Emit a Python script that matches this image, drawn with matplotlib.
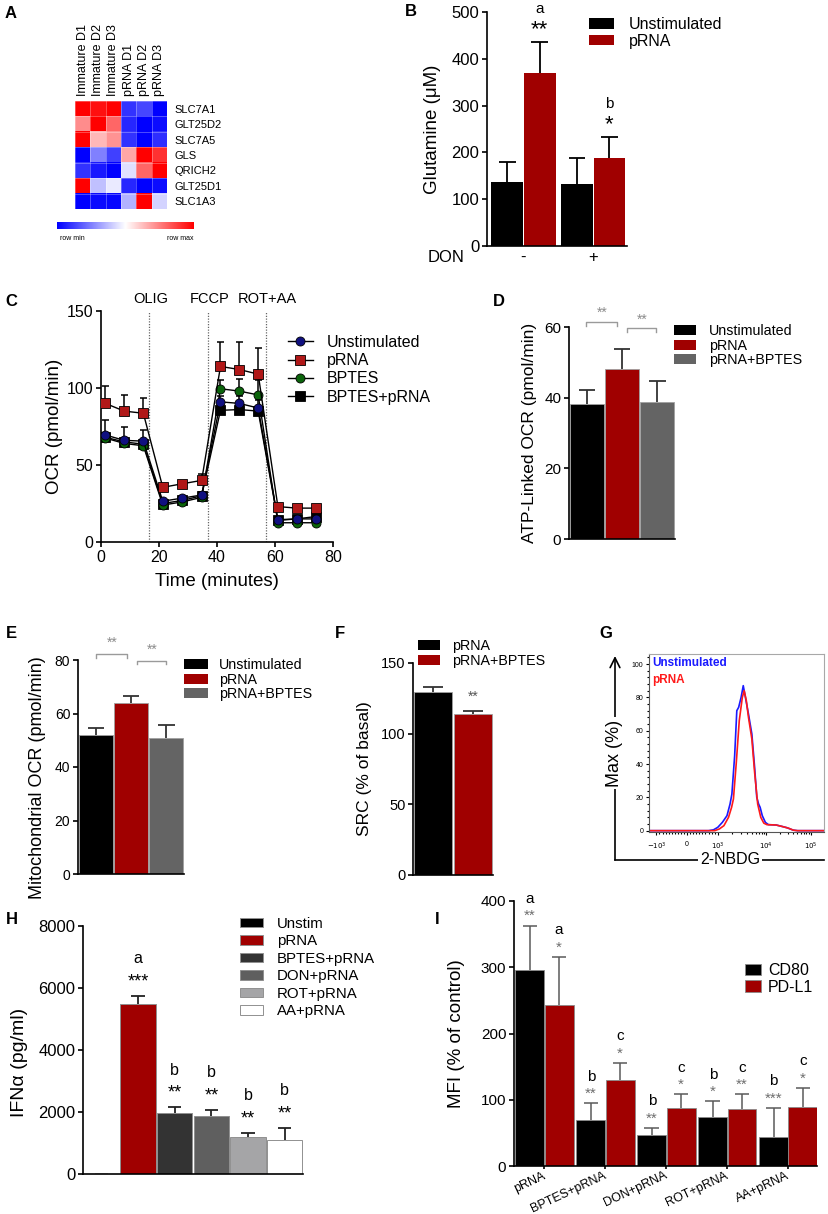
import numpy as np
import matplotlib
matplotlib.use('Agg')
import matplotlib.pyplot as plt
from matplotlib.colors import LinearSegmentedColormap
from matplotlib.lines import Line2D
from matplotlib.patches import Patch
from matplotlib.ticker import MultipleLocator

plt.rcParams['font.family'] = ['Liberation Sans', 'DejaVu Sans']
plt.rcParams['axes.linewidth'] = 1.2
plt.rcParams['xtick.major.width'] = 1.2
plt.rcParams['ytick.major.width'] = 1.2
plt.rcParams['xtick.major.size'] = 3.5
plt.rcParams['ytick.major.size'] = 3.5
plt.rcParams['xtick.major.pad'] = 2
plt.rcParams['ytick.major.pad'] = 2

W, H = 829, 1214
RED = '#a00000'
GREY = '#646464'

# ---------------- data ----------------
# A: row-scaled expression (row min = -1, row max = 1)
genes = ['SLC7A1', 'GLT25D2', 'SLC7A5', 'GLS', 'QRICH2', 'GLT25D1', 'SLC1A3']
samples = ['Immature D1', 'Immature D2', 'Immature D3', 'pRNA D1', 'pRNA D2', 'pRNA D3']
heat_rows = [
    [1.0, 0.93, 1.0, -0.8, -0.72, -1.0],
    [0.45, 1.0, 0.6, -0.85, -1.0, -0.95],
    [1.0, 0.28, 0.42, -0.8, -1.0, -0.82],
    [-1.0, -0.5, -0.75, 0.35, 1.0, 0.8],
    [-0.8, -0.9, -1.0, -0.12, 0.6, 1.0],
    [1.0, -0.25, -0.08, -0.85, -1.0, -0.95],
    [-1.0, -0.96, -0.97, -0.3, 1.0, -0.17],
]

# B: glutamine
don = ['-', '+']
gln_unstim = [137, 133]
gln_unstim_err = [43, 54]
gln_prna = [370, 188]
gln_prna_err = [65, 44]
gln_letters = ['a', 'b']
gln_stars = ['**', '*']

# C: Seahorse trace
time_min = [1.5, 8, 14.6, 21.3, 28, 34.7, 41.2, 47.7, 54.2, 61, 67.5, 74]
ocr_unstim = [69.5, 66, 65.5, 26.5, 28.5, 30.5, 91, 90, 87, 14.5, 15, 15]
ocr_unstim_err = [9.5, 8.5, 7.5, 1, 1, 2, 4, 5, 5, 1, 1, 1]
ocr_prna = [90, 85, 83.6, 35.5, 37.8, 40, 114, 112, 109, 23, 22, 22]
ocr_prna_err = [11.5, 10.5, 10, 1.5, 1.5, 4, 16, 18, 17, 1, 1, 1]
ocr_bptes = [67.5, 64, 62.5, 24, 26, 29, 99.5, 98, 95.5, 12.5, 12.5, 12.5]
ocr_bptes_err = [2, 2, 2, 1, 1, 1, 6, 8, 9.5, 1, 1, 1]
ocr_bptes_prna = [68, 65, 63.5, 25, 27, 30, 85.5, 86, 85, 14, 15, 16.5]
ocr_bptes_prna_err = [2, 2, 2, 1, 1, 1, 2, 2, 2, 1, 1, 1]
injections = [16.5, 36.9, 56.9]
injection_labels = ['OLIG', 'FCCP', 'ROT+AA']

# D: ATP-linked OCR
ocr_groups = ['Unstimulated', 'pRNA', 'pRNA+BPTES']
atp_ocr = [38.3, 48.2, 38.9]
atp_err = [4.0, 5.6, 5.7]
# E: mitochondrial OCR
mito_ocr = [52.0, 63.8, 51.0]
mito_err = [2.4, 2.8, 4.7]
pair_stars = ['**', '**']

# F: spare respiratory capacity
src_groups = ['pRNA', 'pRNA+BPTES']
src = [129.5, 113.8]
src_err = [3.8, 2.2]
src_stars = ['', '**']

# G: 2-NBDG histogram (x in display channel units)
g_tickpos = [-1.0, 0.0, 1.0, 2.58, 4.03]
g_ticklabels = [r'$-10^3$', '0', r'$10^3$', r'$10^4$', r'$10^5$']
hist_unstim_x = [-1.24, 0.7, 0.86, 1.0, 1.15, 1.3, 1.4, 1.46, 1.55, 1.62, 1.68, 1.76, 1.83,
                 1.9, 2.0, 2.11, 2.2, 2.27, 2.33, 2.38, 2.45, 2.55, 2.65, 2.9, 3.1, 3.25,
                 3.46, 3.6, 4.46]
hist_unstim_y = [0, 0, 0.5, 2, 5, 9, 16, 22, 45, 72, 74, 80, 87,
                 80, 70, 58, 38, 20, 16, 14, 9, 5, 3.6, 3.4, 2.5, 1.8,
                 0.3, 0, 0]
hist_prna_x = [-1.24, 0.9, 1.05, 1.2, 1.35, 1.45, 1.51, 1.6, 1.7, 1.8, 1.86, 1.93, 2.0,
               2.11, 2.2, 2.3, 2.4, 2.5, 2.6, 2.9, 3.1, 3.3, 3.46, 3.6, 4.46]
hist_prna_y = [0, 0, 1, 3, 8, 14, 19, 40, 66, 80, 84, 78, 68,
               55, 35, 16, 8, 4.5, 3.6, 3.4, 2.5, 1.5, 0.3, 0, 0]

# H: IFN-alpha
ifn_groups = ['Unstim', 'pRNA', 'BPTES+pRNA', 'DON+pRNA', 'ROT+pRNA', 'AA+pRNA']
ifn = [15, 5480, 1980, 1870, 1180, 1100]
ifn_err = [0, 262, 172, 193, 150, 387]
ifn_letters = ['', 'a', 'b', 'b', 'b', 'b']
ifn_stars = ['', '***', '**', '**', '**', '**']
ifn_colors = ['black', RED, '#333333', '#5f5f5f', '#a5a5a7', 'white']

# I: MFI
mfi_groups = ['pRNA', 'BPTES+pRNA', 'DON+pRNA', 'ROT+pRNA', 'AA+pRNA']
cd80 = [296, 69, 47, 74.5, 43.5]
cd80_err = [67, 25.5, 11, 23.5, 44.5]
pdl1 = [243.5, 130, 88, 86.5, 89.5]
pdl1_err = [72, 25.5, 20, 22, 28.5]
cd80_letters = ['a', 'b', 'b', 'b', 'b']
cd80_stars = ['**', '**', '**', '*', '***']
pdl1_letters = ['a', 'c', 'c', 'c', 'c']
pdl1_stars = ['*', '*', '*', '**', '*']

# ---------------- helpers ----------------
fig = plt.figure(figsize=(W / 100, H / 100), dpi=100)
rects = {}


def add_ax(name, x0, y0, x1, y1):
    ax = fig.add_axes([x0 / W, 1 - y1 / H, (x1 - x0) / W, (y1 - y0) / H])
    rects[name] = (x0, y0, x1, y1)
    return ax


def prism(ax):
    ax.spines['top'].set_visible(False)
    ax.spines['right'].set_visible(False)
    ax.tick_params(direction='out')


def ylab(ax, name, text, xr, size, yc=0.5):
    x0, y0, x1, y1 = rects[name]
    ax.set_ylabel(text, fontsize=size)
    ax.yaxis.set_label_coords((xr - x0) / (x1 - x0), yc)


def up_err(ax, x, y, err, capw, color='black', lw=1.3, z=3):
    x = np.asarray(x, float)
    y = np.asarray(y, float)
    top = y + np.asarray(err, float)
    ax.vlines(x, y, top, colors=color, lw=lw, zorder=z)
    ax.hlines(top, x - capw, x + capw, colors=color, lw=lw, zorder=z)
    return top


def legend_at(ax, handles, labels, x, y, size, **kw):
    ax.legend(handles, labels, loc='upper left', bbox_to_anchor=(x / W, 1 - y / H),
              bbox_transform=fig.transFigure, frameon=False, fontsize=size,
              borderpad=0, borderaxespad=0, **kw)


def bracket(ax, x0, x1, y, drop, text, ty, size=10):
    ax.plot([x0, x0, x1, x1], [y - drop, y, y, y - drop], color='#9a9a9a', lw=1, clip_on=False)
    ax.text((x0 + x1) / 2, ty, text, ha='center', va='center', color='#8c8c8c', fontsize=size)


def panel(letter, x, y):
    fig.text(x / W, 1 - y / H, letter, fontsize=12, fontweight='bold', ha='center', va='center')


# ---------------- A ----------------
axA = add_ax('A', 75, 101, 167, 209)
cmap = LinearSegmentedColormap.from_list('rowscale', ['#0000ff', '#ffffff', '#ff0000'])
axA.imshow(np.array(heat_rows), cmap=cmap, vmin=-1, vmax=1, aspect='auto')
axA.set_xticks(range(len(samples)))
axA.set_xticklabels(samples, rotation=90, fontsize=9)
axA.xaxis.tick_top()
axA.set_yticks(range(len(genes)))
axA.set_yticklabels(genes, fontsize=8)
axA.yaxis.tick_right()
axA.tick_params(axis='x', length=0, pad=3.5)
axA.tick_params(axis='y', length=0, pad=5.5)
axA.set_xticks(np.arange(-0.5, len(samples), 1), minor=True)
axA.set_yticks(np.arange(-0.5, len(genes), 1), minor=True)
axA.grid(which='minor', color='white', alpha=0.35, lw=0.6)
axA.tick_params(which='minor', length=0)
for s in axA.spines.values():
    s.set_visible(False)

axCb = add_ax('Acb', 57, 222, 194, 229)
axCb.imshow(np.linspace(-1, 1, 256)[None, :], cmap=cmap, aspect='auto')
axCb.axis('off')
axCb.text(0.11, -1.3, 'row min', transform=axCb.transAxes, fontsize=5, ha='center', va='center')
axCb.text(0.9, -1.3, 'row max', transform=axCb.transAxes, fontsize=5, ha='center', va='center')

# ---------------- B ----------------
axB = add_ax('B', 487, 12, 627, 246)
prism(axB)
xb = np.arange(len(don)) * 2.15
axB.bar(xb, gln_unstim, width=0.98, color='black', label='Unstimulated')
axB.bar(xb + 1, gln_prna, width=0.98, color=RED, label='pRNA')
up_err(axB, xb, gln_unstim, gln_unstim_err, 0.26)
tops = up_err(axB, xb + 1, gln_prna, gln_prna_err, 0.26)
for x, t, let, st in zip(xb + 1, tops, gln_letters, gln_stars):
    axB.text(x, t + 28, st, ha='center', va='center', fontsize=16, clip_on=False)
    axB.text(x, t + 72, let, ha='center', va='center', fontsize=11, clip_on=False)
axB.set_xlim(-0.62, 3.69)
axB.set_ylim(0, 500)
axB.set_yticks(range(0, 501, 100))
axB.set_xticks(xb + 0.5)
axB.set_xticklabels(don, fontsize=12)
axB.tick_params(axis='x', length=0, pad=3)
axB.tick_params(axis='y', labelsize=12)
ylab(axB, 'B', 'Glutamine (\u03bcM)', 441, 13.5)
fig.text(446 / W, 1 - 258 / H, 'DON', ha='center', va='center', fontsize=12)
hB, lB = axB.get_legend_handles_labels()
legend_at(axB, hB, lB, 589, 17, 11.5, handlelength=1.55, handleheight=0.65,
          handletextpad=0.95, labelspacing=0.1)

# ---------------- C ----------------
axC = add_ax('C', 101, 311, 333, 542)
prism(axC)
c_series = [
    ('BPTES+pRNA', ocr_bptes_prna, ocr_bptes_prna_err, 's', 'black'),
    ('BPTES', ocr_bptes, ocr_bptes_err, 'o', '#0b640b'),
    ('Unstimulated', ocr_unstim, ocr_unstim_err, 'o', '#101080'),
    ('pRNA', ocr_prna, ocr_prna_err, 's', '#b01818'),
]
handles = {}
for i, (name, vals, err, mk, col) in enumerate(c_series):
    up_err(axC, time_min, vals, err, 1.2, lw=1.1, z=2 + i)
    ln, = axC.plot(time_min, vals, color='black', lw=1.0, marker=mk, mfc=col, mec='black',
                   mew=0.6, ms=6.5, zorder=3 + i)
    handles[name] = ln
for x, lab in zip(injections, injection_labels):
    axC.axvline(x, color='#666666', ls=(0, (1, 1.2)), lw=0.9, zorder=1)
    axC.text(x + 0.5, 157.5, lab, ha='center', va='center', fontsize=10.5, clip_on=False)
axC.set_xlim(0, 80)
axC.set_ylim(0, 150)
axC.set_xticks(range(0, 81, 20))
axC.set_yticks([0, 50, 100, 150])
axC.tick_params(labelsize=11.5)
ylab(axC, 'C', 'OCR (pmol/min)', 63, 13.5)
axC.set_xlabel('Time (minutes)', fontsize=13.5)
axC.xaxis.set_label_coords(0.5, -0.135)
order = ['Unstimulated', 'pRNA', 'BPTES', 'BPTES+pRNA']
legend_at(axC, [handles[k] for k in order], order, 288, 335, 11.5,
          handlelength=1.55, handletextpad=0.9, labelspacing=0.2)

# ---------------- D ----------------
bar_cols3 = ['black', RED, GREY]
axD = add_ax('D', 569, 327, 675, 539)
prism(axD)
xd = np.arange(len(ocr_groups))
axD.bar(xd, atp_ocr, width=0.97, color=bar_cols3, edgecolor='#a0a0a0', lw=0.6)
up_err(axD, xd, atp_ocr, atp_err, 0.23, color='#333333')
bracket(axD, -0.03, 0.86, 61.4, 1.1, pair_stars[0], 64.0)
bracket(axD, 1.14, 1.97, 59.7, 1.0, pair_stars[1], 62.0)
axD.set_xlim(-0.52, 2.5)
axD.set_ylim(0, 60)
axD.set_yticks([0, 20, 40, 60])
axD.set_xticks([])
axD.tick_params(labelsize=11)
ylab(axD, 'D', 'ATP-Linked OCR (pmol/min)', 537, 12.5)
pD = [Patch(fc=c, ec='none') for c in bar_cols3]
legend_at(axD, pD, ocr_groups, 674, 324, 10.3, handlelength=1.55, handleheight=0.7,
          handletextpad=0.9, labelspacing=0.05)

# ---------------- E ----------------
axE = add_ax('E', 78, 660, 184, 874)
prism(axE)
axE.bar(xd, mito_ocr, width=0.97, color=bar_cols3, edgecolor='#a0a0a0', lw=0.6)
up_err(axE, xd, mito_ocr, mito_err, 0.23, color='#333333')
bracket(axE, 0.0, 0.886, 82.1, 1.2, pair_stars[0], 86.3)
bracket(axE, 1.17, 2.0, 79.6, 1.2, pair_stars[1], 83.7)
axE.set_xlim(-0.52, 2.5)
axE.set_ylim(0, 80)
axE.set_yticks(range(0, 81, 20))
axE.set_xticks([])
axE.tick_params(labelsize=10)
ylab(axE, 'E', 'Mitochondrial OCR (pmol/min)', 46, 13, yc=0.45)
legend_at(axE, pD, ocr_groups, 184, 658, 10.3, handlelength=1.7, handleheight=0.7,
          handletextpad=0.75, labelspacing=0.05)

# ---------------- F ----------------
axF = add_ax('F', 413, 663, 493, 875)
prism(axF)
xf = np.arange(len(src_groups))
axF.bar(xf, src, width=0.97, color=['black', RED], edgecolor='#a0a0a0', lw=0.6)
tf = up_err(axF, xf, src, src_err, 0.24, color='#333333')
for x, t, st in zip(xf, tf, src_stars):
    axF.text(x, t + 10, st, ha='center', va='center', fontsize=10, color='#555555')
axF.set_xlim(-0.5, 1.5)
axF.set_ylim(0, 150)
axF.set_yticks([0, 50, 100, 150])
axF.set_xticks([])
axF.tick_params(labelsize=10.5)
ylab(axF, 'F', 'SRC (% of basal)', 372, 12.5)
pF = [Patch(fc=c, ec='none') for c in ['black', RED]]
legend_at(axF, pF, src_groups, 418, 639, 10.3, handlelength=1.55, handleheight=0.7,
          handletextpad=0.85, labelspacing=0.05)

# ---------------- G ----------------
axG = add_ax('G', 649, 654, 824, 832)
axG.plot(hist_unstim_x, hist_unstim_y, color='#1a1aff', lw=1.2)
axG.plot(hist_prna_x, hist_prna_y, color='#ff1a1a', lw=1.2)
axG.set_xlim(-1.24, 4.46)
axG.set_ylim(-0.8, 106)
axG.set_yticks(range(0, 101, 20))
axG.yaxis.set_minor_locator(MultipleLocator(4))
axG.set_xticks(g_tickpos)
axG.set_xticklabels(g_ticklabels)
g_minor = ([v / 10 for v in range(-9, 10) if v != 0] +
           [1 + 1.58 * np.log10(k) for k in range(2, 10)] +
           [2.58 + 1.45 * np.log10(k) for k in range(2, 10)])
axG.set_xticks(g_minor, minor=True)
axG.tick_params(which='both', direction='out', labelsize=5, width=0.8, pad=1.5)
axG.tick_params(which='major', length=2.5)
axG.tick_params(which='minor', length=1.5)
axG.tick_params(axis='x', pad=4)
for s in ('top', 'right'):
    axG.spines[s].set_color('#a8a8a8')
for s in ('left', 'bottom'):
    axG.spines[s].set_color('#555555')
for s in axG.spines.values():
    s.set_linewidth(0.8)
axG.text(0.017, 0.985, 'Unstimulated', transform=axG.transAxes, color='#1a1aff',
         fontsize=8.5, fontweight='bold', va='top')
axG.text(0.017, 0.89, 'pRNA', transform=axG.transAxes, color='#ff1a1a',
         fontsize=8.5, fontweight='bold', va='top')
axG.annotate('', xy=(615, H - 656), xytext=(615, H - 860), xycoords='figure pixels',
             textcoords='figure pixels',
             arrowprops=dict(arrowstyle='->,head_length=0.7,head_width=0.35', lw=1.2,
                             shrinkA=0, shrinkB=0))
fig.add_artist(Line2D([615 / W, 824 / W], [1 - 860 / H, 1 - 860 / H], color='black', lw=1.2))
fig.text(615 / W, 1 - 753 / H, 'Max (%)', rotation=90, ha='center', va='center', fontsize=13,
         bbox=dict(fc='white', ec='none', pad=1.5))
fig.text(730 / W, 1 - 860 / H, '2-NBDG', ha='center', va='center', fontsize=11.5,
         bbox=dict(fc='white', ec='none', pad=1.5))

# ---------------- H ----------------
axH = add_ax('H', 83, 926, 303, 1174)
prism(axH)
xh = np.arange(len(ifn_groups))
axH.bar(xh, ifn, width=0.97, color=ifn_colors, edgecolor='#909090', lw=0.7)
th = up_err(axH, xh, ifn, ifn_err, 0.18, color='#222222')
for x, t, let, st in zip(xh, th, ifn_letters, ifn_stars):
    if st:
        axH.text(x, t + 450, st, ha='center', va='center', fontsize=13)
        axH.text(x, t + 1200, let, ha='center', va='center', fontsize=11.5)
axH.set_xlim(-0.5, 5.5)
axH.set_ylim(0, 8000)
axH.set_yticks(range(0, 8001, 2000))
axH.set_xticks([])
axH.tick_params(labelsize=12)
ylab(axH, 'H', 'IFN\u03b1 (pg/ml)', 28, 14, yc=0.45)
pH = [Patch(fc=c, ec='#909090', lw=0.7) for c in ifn_colors]
legend_at(axH, pH, ifn_groups, 240, 917, 10.8, handlelength=1.5, handleheight=0.6,
          handletextpad=0.95, labelspacing=0.23)

# ---------------- I ----------------
axI = add_ax('I', 514, 901, 817, 1166)
prism(axI)
xi = np.arange(len(mfi_groups))
bw = 0.475
axI.bar(xi - 0.24, cd80, width=bw, color='black', edgecolor='#8a8a8a', lw=0.6, label='CD80')
axI.bar(xi + 0.24, pdl1, width=bw, color=RED, edgecolor='#8a8a8a', lw=0.6, label='PD-L1')
t80 = up_err(axI, xi - 0.24, cd80, cd80_err, 0.12, color='#5a5a5a', lw=1.1)
tpd = up_err(axI, xi + 0.24, pdl1, pdl1_err, 0.12, color='#5a5a5a', lw=1.1)
for xs, tops, lets, stars in [(xi - 0.24, t80, cd80_letters, cd80_stars),
                              (xi + 0.24, tpd, pdl1_letters, pdl1_stars)]:
    for x, t, let, st in zip(xs, tops, lets, stars):
        axI.text(x, t + 14, st, ha='center', va='center', fontsize=11, color='#6e6e6e', clip_on=False)
        axI.text(x, t + 40, let, ha='center', va='center', fontsize=11, clip_on=False)
axI.set_xlim(-0.5, 4.47)
axI.set_ylim(0, 400)
axI.set_yticks(range(0, 401, 100))
axI.set_xticks(xi)
axI.set_xticklabels(mfi_groups, rotation=25, ha='right', va='center', rotation_mode='anchor')
axI.tick_params(labelsize=11)
axI.tick_params(axis='x', labelsize=9, pad=4, length=2.5)
ylab(axI, 'I', 'MFI (% of control)', 465, 13.5)
hI, lI = axI.get_legend_handles_labels()
legend_at(axI, hI, lI, 745, 963, 11.5, handlelength=1.0, handleheight=0.7,
          handletextpad=0.45, labelspacing=0.1)

# panel letters
for let, x, y in [('A', 11, 14), ('B', 411, 12), ('C', 11, 302), ('D', 499, 302),
                  ('E', 11, 633), ('F', 340, 633), ('G', 606, 633), ('H', 12, 919),
                  ('I', 437, 919)]:
    panel(let, x, y)

fig.savefig('out.png', dpi=100)
